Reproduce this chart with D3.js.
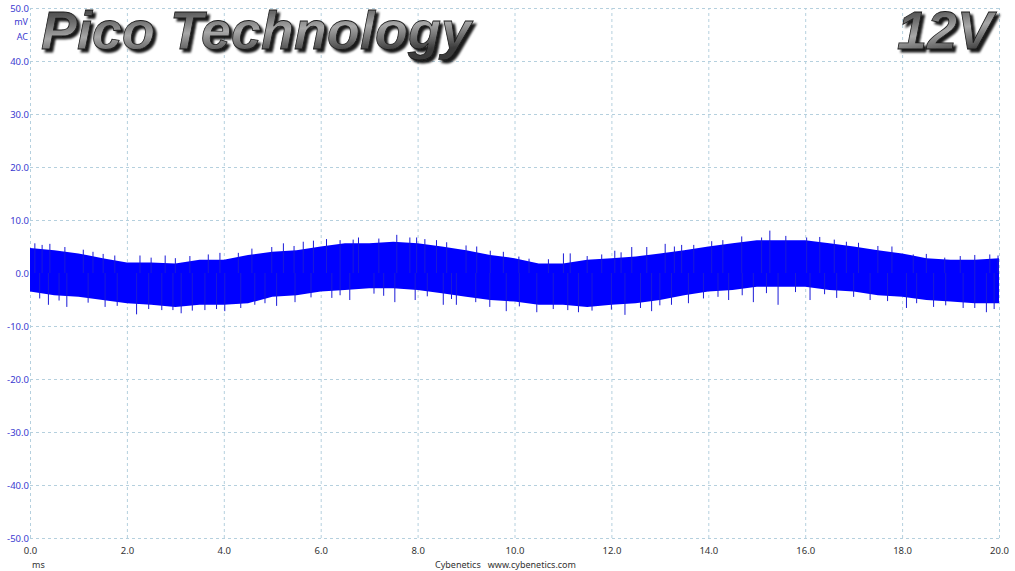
<!DOCTYPE html>
<html>
<head>
<meta charset="utf-8">
<script src="https://cdn.jsdelivr.net/npm/d3@7"></script>
<style>
  body { margin: 0; background: #fff; }
  svg { display: block; }
</style>
</head>
<body>
<div id="chart"></div>
<script>
// tick labels
const xTicks = [0, 2, 4, 6, 8, 10, 12, 14, 16, 18, 20]
const yTicks = [50, 40, 30, 20, 10, 0, -10, -20, -30, -40, -50]

// envelope of the ripple band, read every 0.5 ms (mV)
const envT = [0, 0.5, 1, 1.5, 2, 2.5, 3, 3.5, 4, 4.5, 5, 5.5, 6, 6.5, 7, 7.5, 8, 8.5, 9, 9.5, 10,
              10.5, 11, 11.5, 12, 12.5, 13, 13.5, 14, 14.5, 15, 15.5, 16, 16.5, 17, 17.5, 18, 18.5, 19, 19.5, 20]
const envHi = [4.7, 4.3, 3.7, 2.8, 2.0, 2.0, 1.8, 2.5, 2.5, 3.4, 4.0, 4.3, 5.0, 5.6, 5.6, 5.9, 5.6, 5.0, 4.3, 3.4, 2.8,
               1.8, 1.8, 2.5, 2.8, 3.1, 3.7, 4.3, 5.0, 5.6, 6.2, 6.2, 6.2, 5.6, 5.0, 4.3, 3.7, 2.8, 2.5, 2.5, 2.8]
const envLo = [-3.5, -4.2, -4.5, -5.1, -5.7, -6.0, -6.4, -6.0, -6.0, -5.7, -4.5, -4.2, -3.5, -3.2, -2.9, -2.9, -3.2, -3.8, -4.5, -5.1, -5.4,
               -6.0, -6.0, -6.4, -6.0, -5.7, -5.1, -4.2, -3.5, -3.2, -2.6, -2.6, -2.6, -3.2, -3.5, -4.2, -4.5, -5.1, -5.4, -5.7, -5.7]

// spikes sticking out of the band (ms, mV)
const spikeUpT = [0.10, 0.25, 0.41, 0.72, 1.1, 1.3, 1.51, 1.75, 2.27, 2.5, 2.79, 3.0, 3.3, 3.68, 3.92, 4.3, 4.58, 4.99,
                  5.23, 5.45, 5.64, 5.85, 6.12, 6.4, 6.67, 6.78, 7.2, 7.57, 7.84, 7.98, 8.15, 8.39, 8.6, 9.0, 9.22,
                  9.5, 9.77, 10.09, 10.3, 10.7, 11.01, 11.15, 11.5, 11.8, 12.07, 12.2, 12.42, 12.73, 13.11, 13.3,
                  13.45, 13.7, 14.07, 14.3, 14.69, 15.10, 15.27, 15.6, 16.03, 16.3, 16.6, 16.85, 17.1, 17.5, 17.79,
                  18.23, 18.5, 18.88, 19.2, 19.5, 19.81, 19.98]
const spikeUpV = [5.6, 5.3, 5.5, 4.9, 4.4, 4.0, 3.6, 3.3, 3.3, 2.9, 3.3, 2.8, 3.2, 3.5, 3.8, 3.8, 4.6, 4.9,
                  5.6, 5.1, 5.9, 6.1, 6.4, 6.2, 6.3, 6.7, 6.5, 7.2, 6.7, 6.7, 6.4, 6.2, 5.8, 5.2, 5.0,
                  4.2, 4.0, 3.1, 2.7, 2.6, 3.7, 3.7, 3.2, 3.5, 4.2, 3.9, 4.9, 4.9, 5.5, 5.0,
                  5.3, 5.3, 6.0, 6.2, 6.9, 6.7, 8.0, 7.0, 6.7, 6.8, 6.3, 5.9, 5.7, 5.1, 5.0,
                  3.5, 3.6, 2.9, 3.2, 3.4, 3.5, 3.3]
const spikeDnT = [0.2, 0.38, 0.6, 0.76, 1.2, 1.55, 1.8, 2.20, 2.45, 2.72, 2.95, 3.12, 3.35, 3.61, 3.85, 4.02, 4.35,
                  4.64, 4.85, 5.09, 5.47, 5.8, 6.23, 6.4, 6.60, 7.1, 7.3, 7.53, 7.95, 8.2, 8.53, 8.7, 8.80, 9.2,
                  9.49, 9.83, 10.1, 10.46, 10.8, 11.1, 11.32, 11.6, 12.0, 12.28, 12.6, 12.83, 13.0, 13.24, 13.59,
                  13.9, 14.2, 14.42, 14.7, 14.93, 15.2, 15.44, 15.8, 16.10, 16.4, 16.65, 17.0, 17.34, 17.7, 18.09,
                  18.3, 18.65, 18.9, 19.26, 19.5, 19.74, 19.9]
const spikeDnV = [-4.8, -6.0, -5.2, -6.4, -5.6, -6.4, -6.2, -7.8, -6.8, -7.0, -7.0, -7.6, -7.1, -7.0, -6.8, -7.2, -6.6,
                  -6.0, -5.7, -6.2, -5.5, -4.6, -4.7, -4.2, -5.1, -3.9, -4.3, -5.5, -5.1, -4.4, -6.0, -4.9, -6.0, -5.5,
                  -6.4, -7.2, -6.3, -7.4, -6.8, -7.0, -7.4, -7.1, -6.9, -7.9, -6.6, -7.2, -6.1, -6.0, -5.7,
                  -4.8, -4.5, -5.1, -4.2, -5.5, -3.8, -6.0, -3.6, -5.1, -4.0, -4.7, -4.5, -5.1, -5.3, -6.6,
                  -5.7, -6.4, -6.1, -6.6, -6.6, -7.4, -6.8]

const width = 1015
const height = 571

const svg = d3.select("#chart").append("svg")
    .attr("width", width)
    .attr("height", height)

const x = d3.scaleLinear().domain([0, 20]).range([30, 999])
const y = d3.scaleLinear().domain([-50, 50]).range([538, 8])

// grid
const gridColor = "#b5d0de"
svg.append("g")
    .attr("transform", `translate(0,${y(-50)})`)
    .call(d3.axisBottom(x).tickValues(xTicks).tickSize(-(y(-50) - y(50))).tickFormat(""))
    .call(g => g.select(".domain").remove())
    .call(g => g.selectAll("line").attr("stroke", gridColor).attr("stroke-dasharray", "3,3"))

svg.append("g")
    .attr("transform", `translate(${x(0)},0)`)
    .call(d3.axisLeft(y).tickValues(yTicks).tickSize(-(x(20) - x(0))).tickFormat(""))
    .call(g => g.select(".domain").remove())
    .call(g => g.selectAll("line").attr("stroke", gridColor).attr("stroke-dasharray", "3,3"))

// trace band
const band = envT.map((t, i) => ({ t: t, hi: envHi[i], lo: envLo[i] }))
svg.append("path")
    .datum(band)
    .attr("fill", "#0000ff")
    .attr("d", d3.area().x(d => x(d.t)).y0(d => y(d.lo)).y1(d => y(d.hi)))

const spikes = spikeUpT.map((t, i) => ({ t: t, v: spikeUpV[i] }))
    .concat(spikeDnT.map((t, i) => ({ t: t, v: spikeDnV[i] })))
svg.append("g")
    .selectAll("line")
    .data(spikes)
    .enter().append("line")
    .attr("x1", d => x(d.t))
    .attr("x2", d => x(d.t))
    .attr("y1", y(0))
    .attr("y2", d => y(d.v))
    .attr("stroke", "#1a1ad8")
    .attr("stroke-width", 1)

// axes labels
svg.append("g")
    .attr("transform", `translate(${x(0) - 1},0)`)
    .call(d3.axisLeft(y).tickValues(yTicks).tickSize(0).tickPadding(0).tickFormat(d => d.toFixed(1)))
    .call(g => g.select(".domain").remove())
    .call(g => g.selectAll("text").attr("fill", "#3a3ad0").style("font-family", "Noto Sans").style("font-size", "9.5px"))

svg.append("g")
    .attr("transform", `translate(0,${y(-50) + 9})`)
    .call(d3.axisBottom(x).tickValues(xTicks).tickSize(0).tickPadding(0).tickFormat(d => d.toFixed(1)))
    .call(g => g.select(".domain").remove())
    .call(g => g.selectAll("text").attr("fill", "#333").style("font-family", "Noto Sans").style("font-size", "9.5px"))

svg.append("text").attr("x", 28).attr("y", 25).attr("text-anchor", "end")
    .attr("fill", "#3a3ad0").style("font-family", "Noto Sans").style("font-size", "9px").text("mV")
svg.append("text").attr("x", 28).attr("y", 40).attr("text-anchor", "end")
    .attr("fill", "#3a3ad0").style("font-family", "Noto Sans").style("font-size", "9px").text("AC")

svg.append("text").attr("x", 32).attr("y", 568)
    .attr("fill", "#333").style("font-family", "Noto Sans").style("font-size", "9px").text("ms")
svg.append("text").attr("x", 435).attr("y", 568)
    .attr("fill", "#333").style("font-family", "Noto Sans").style("font-size", "9px")
    .attr("xml:space", "preserve").text("Cybenetics   www.cybenetics.com")

// metallic titles
const defs = svg.append("defs")
const grad = defs.append("linearGradient").attr("id", "metal")
    .attr("x1", 0).attr("y1", 0).attr("x2", 0.3).attr("y2", 1)
grad.append("stop").attr("offset", "0%").attr("stop-color", "#2a2a2a")
grad.append("stop").attr("offset", "35%").attr("stop-color", "#6a6a6a")
grad.append("stop").attr("offset", "60%").attr("stop-color", "#a8a8a8")
grad.append("stop").attr("offset", "100%").attr("stop-color", "#3a3a3a")

const shadow = defs.append("filter").attr("id", "shadow")
    .attr("x", "-10%").attr("y", "-20%").attr("width", "130%").attr("height", "150%")
shadow.append("feDropShadow").attr("dx", 3).attr("dy", 3).attr("stdDeviation", 1.2)
    .attr("flood-color", "#000").attr("flood-opacity", 0.9)

function title(txt, xPos, anchor) {
    svg.append("text").attr("x", xPos).attr("y", 49)
        .attr("text-anchor", anchor).attr("fill", "url(#metal)")
        .attr("stroke", "#1a1a1a").attr("stroke-width", 0.8)
        .attr("filter", "url(#shadow)")
        .style("font-family", "Liberation Sans").style("font-weight", "bold")
        .style("font-style", "italic").style("font-size", "54px").text(txt)
}
title("Pico Technology", 41, "start")
title("12V", 993, "end")
</script>
</body>
</html>
